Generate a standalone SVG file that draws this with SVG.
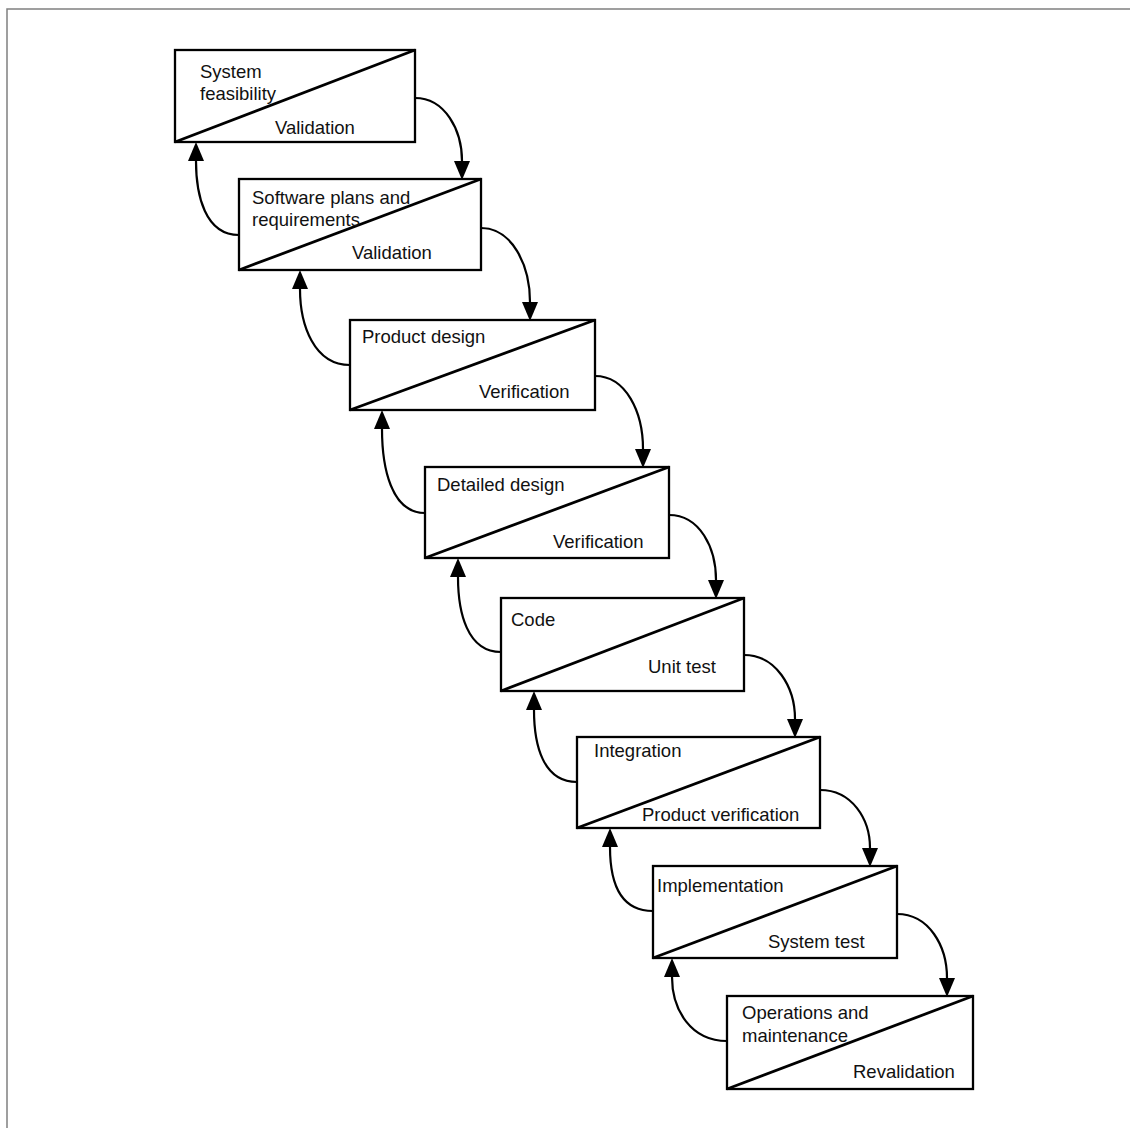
<svg xmlns="http://www.w3.org/2000/svg" width="1130" height="1128" viewBox="0 0 1130 1128">
  <style>
    .frame { fill: none; stroke: #808080; stroke-width: 1.5; }
    .box { fill: #ffffff; stroke: #000000; stroke-width: 2.3; }
    .diag { fill: none; stroke: #000000; stroke-width: 2.8; }
    .label { font-family: "Liberation Sans", Arial, Helvetica, sans-serif; font-size: 18.5px; fill: #111111; }
    .flow { fill: none; stroke: #000000; stroke-width: 2.2; }
  </style>
  <defs>
    <marker id="head" markerUnits="userSpaceOnUse" viewBox="0 0 19 16" markerWidth="19" markerHeight="16" refX="0" refY="8" orient="auto">
      <path d="M0,0 L19,8 L0,16 Z" fill="#000000"/>
    </marker>
  </defs>

  <rect width="1130" height="1128" fill="#ffffff"/>

  <!-- page frame (top and left edges only) -->
  <path class="frame" d="M7,1128 L7,9 L1130,9"/>

  <!-- connectors: forward steps on the right, feedback loops on the left -->
  <g id="connectors">
    <path class="flow" marker-end="url(#head)" d="M415,98 C445,98 462,130 462,161"/>
    <path class="flow" marker-end="url(#head)" d="M481,228 C512,228 530,265 530,302"/>
    <path class="flow" marker-end="url(#head)" d="M595,376 C626,376 643,412 643,449"/>
    <path class="flow" marker-end="url(#head)" d="M669,515 C700,515 716,548 716,580"/>
    <path class="flow" marker-end="url(#head)" d="M744,655 C776,655 795,687 795,719"/>
    <path class="flow" marker-end="url(#head)" d="M820,790 C852,790 870,819 870,848"/>
    <path class="flow" marker-end="url(#head)" d="M897,914 C929,914 947,946 947,978"/>

    <path class="flow" marker-end="url(#head)" d="M239,235 C205,235 196,195 196,161"/>
    <path class="flow" marker-end="url(#head)" d="M350,365 C314,365 300,325 300,289"/>
    <path class="flow" marker-end="url(#head)" d="M425,513 C391,513 382,467 382,429"/>
    <path class="flow" marker-end="url(#head)" d="M501,652 C467,652 458,612 458,577"/>
    <path class="flow" marker-end="url(#head)" d="M577,782 C543,782 534,745 534,710"/>
    <path class="flow" marker-end="url(#head)" d="M653,911 C619,911 610,880 610,847"/>
    <path class="flow" marker-end="url(#head)" d="M727,1041 C691,1041 672,1010 672,977"/>
  </g>

  <g id="system-feasibility">
    <rect class="box" x="175" y="50" width="240" height="92"/>
    <line class="diag" x1="175" y1="142" x2="415" y2="50"/>
    <text class="label" x="200" y="78">System</text>
    <text class="label" x="200" y="100">feasibility</text>
    <text class="label" x="275" y="134">Validation</text>
  </g>

  <g id="software-plans">
    <rect class="box" x="239" y="179" width="242" height="91"/>
    <line class="diag" x1="239" y1="270" x2="481" y2="179"/>
    <text class="label" x="252" y="204">Software plans and</text>
    <text class="label" x="252" y="226">requirements</text>
    <text class="label" x="352" y="259">Validation</text>
  </g>

  <g id="product-design">
    <rect class="box" x="350" y="320" width="245" height="90"/>
    <line class="diag" x1="350" y1="410" x2="595" y2="320"/>
    <text class="label" x="362" y="343">Product design</text>
    <text class="label" x="479" y="398">Verification</text>
  </g>

  <g id="detailed-design">
    <rect class="box" x="425" y="467" width="244" height="91"/>
    <line class="diag" x1="425" y1="558" x2="669" y2="467"/>
    <text class="label" x="437" y="491">Detailed design</text>
    <text class="label" x="553" y="548">Verification</text>
  </g>

  <g id="code">
    <rect class="box" x="501" y="598" width="243" height="93"/>
    <line class="diag" x1="501" y1="691" x2="744" y2="598"/>
    <text class="label" x="511" y="626">Code</text>
    <text class="label" x="648" y="673">Unit test</text>
  </g>

  <g id="integration">
    <rect class="box" x="577" y="737" width="243" height="91"/>
    <line class="diag" x1="577" y1="828" x2="820" y2="737"/>
    <text class="label" x="594" y="757">Integration</text>
    <text class="label" x="642" y="821">Product verification</text>
  </g>

  <g id="implementation">
    <rect class="box" x="653" y="866" width="244" height="92"/>
    <line class="diag" x1="653" y1="958" x2="897" y2="866"/>
    <text class="label" x="657" y="892">Implementation</text>
    <text class="label" x="768" y="948">System test</text>
  </g>

  <g id="operations-maintenance">
    <rect class="box" x="727" y="996" width="246" height="93"/>
    <line class="diag" x1="727" y1="1089" x2="973" y2="996"/>
    <text class="label" x="742" y="1019">Operations and</text>
    <text class="label" x="742" y="1042">maintenance</text>
    <text class="label" x="853" y="1078">Revalidation</text>
  </g>
</svg>
